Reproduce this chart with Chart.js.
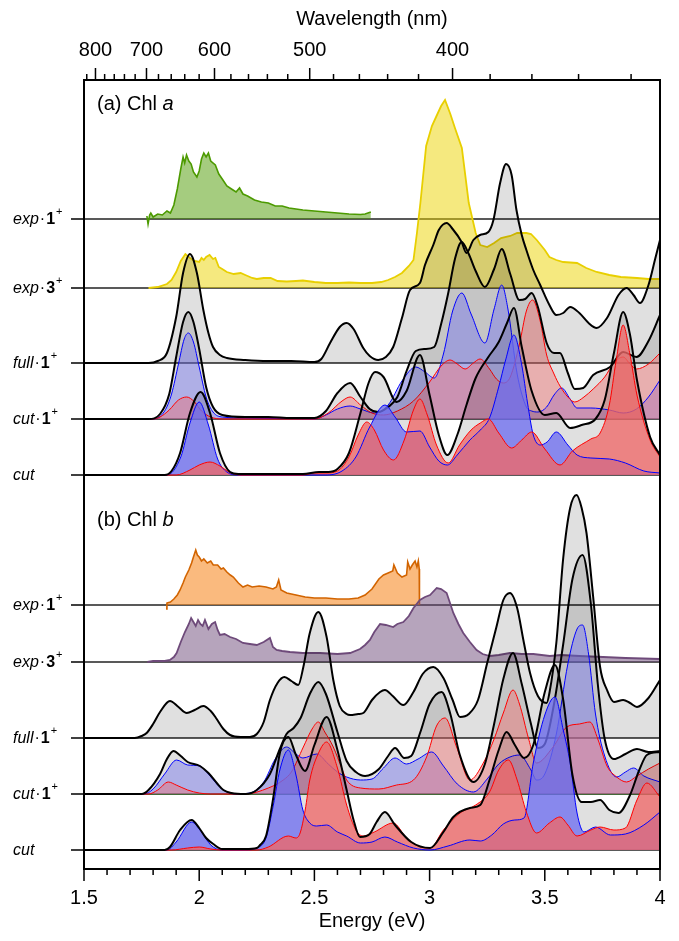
<!DOCTYPE html>
<html>
<head>
<meta charset="utf-8">
<title>Chl a / Chl b</title>
<script src="https://cdn.jsdelivr.net/npm/chart.js@4.4.1/dist/chart.umd.min.js"></script>
<style>
  body { margin: 0; background: #fff; }
  #wrap { width: 679px; height: 941px; }
</style>
</head>
<body>
<div id="wrap"><canvas id="grafico" width="679" height="941"></canvas></div>
<script>
// ---- ejes ----
const energyTicks = [1.5, 2, 2.5, 3, 3.5, 4];
const energyMinor = [1.6, 1.7, 1.8, 1.9, 2.1, 2.2, 2.3, 2.4, 2.6, 2.7, 2.8, 2.9, 3.1, 3.2, 3.3, 3.4, 3.6, 3.7, 3.8, 3.9];
const wavelengthTicks = [800, 700, 600, 500, 400];
const wavelengthMinor = [820, 780, 760, 740, 720, 680, 660, 640, 620, 580, 560, 540, 520, 480, 460, 440, 420, 380, 360, 340, 320];

// ---- lineas base (offset vertical de cada espectro) ----
const rowLabels = [['exp', '1'], ['exp', '3'], ['full', '1'], ['cut', '1'], ['cut', '']];
const baseA = [650, 581, 506, 450, 394];
const baseB = [264, 207, 131, 75, 19];

// ---- (a) Chl a : [energia eV, intensidad] ----
const expA1 = [[1.773,3],[1.778,-5],[1.785,4],[1.79,6],[1.80,2],[1.82,5],[1.84,4],[1.86,8],[1.875,6],[1.89,14],[1.905,30],[1.92,50],[1.93,62],[1.937,56],[1.945,64],[1.955,58],[1.965,55],[1.975,47],[1.99,42],[2.0,48],[2.01,60],[2.02,66],[2.03,62],[2.04,66],[2.05,58],[2.07,54],[2.085,45],[2.1,40],[2.12,33],[2.14,30],[2.16,27],[2.175,31],[2.19,25],[2.21,23],[2.24,19],[2.27,17],[2.3,16],[2.33,13],[2.36,13],[2.39,11],[2.42,10],[2.45,9],[2.5,8],[2.55,7],[2.6,6],[2.65,5],[2.7,4.5],[2.72,5],[2.745,7]];
const expA3 = [[1.78,0],[1.82,1],[1.86,4],[1.88,8],[1.9,16],[1.92,27],[1.94,34],[1.96,30],[1.98,27],[2.0,26],[2.01,30],[2.02,28],[2.03,31],[2.045,33],[2.06,29],[2.07,30],[2.085,21],[2.1,19],[2.12,16],[2.15,14],[2.18,15],[2.2,13],[2.23,10],[2.25,9],[2.28,10],[2.31,10],[2.34,7],[2.38,6.5],[2.42,7],[2.45,7.5],[2.5,6],[2.55,5],[2.6,5],[2.65,5.5],[2.7,5],[2.75,5],[2.79,6],[2.82,8],[2.85,11],[2.88,15],[2.91,22],[2.93,28],[2.945,55],[2.96,85],[2.985,142],[3.01,162],[3.03,172],[3.05,182],[3.067,188],[3.09,174],[3.11,160],[3.14,140],[3.17,85],[3.2,55],[3.22,43],[3.25,41],[3.28,45],[3.31,50],[3.35,52],[3.38,55],[3.42,55],[3.44,54],[3.465,48],[3.5,38],[3.52,31],[3.55,28],[3.58,26],[3.64,25],[3.68,20],[3.725,16],[3.78,13],[3.83,11],[3.9,10],[3.95,9],[4.0,9]];
const fullA = [[1.5,0],[1.78,0],[1.82,2],[1.86,10],[1.9,46],[1.93,90],[1.96,109],[1.99,90],[2.018,53],[2.04,30],[2.06,16],[2.09,8],[2.12,5],[2.2,3],[2.3,2],[2.4,2],[2.5,1],[2.53,4],[2.568,20],[2.61,36],[2.64,40],[2.67,34],[2.712,15],[2.74,7],[2.777,3],[2.81,6],[2.842,16],[2.88,45],[2.915,73],[2.958,80],[2.98,98],[3.016,118],[3.04,133],[3.074,140],[3.1,134],[3.139,121],[3.16,110],[3.19,123],[3.219,128],[3.255,131],[3.277,143],[3.306,180],[3.332,199],[3.356,188],[3.377,153],[3.40,128],[3.42,113],[3.45,93],[3.48,78],[3.52,58],[3.55,48],[3.58,50],[3.61,56],[3.65,50],[3.69,40],[3.725,35],[3.77,45],[3.82,68],[3.855,75],[3.885,68],[3.913,60],[3.95,78],[3.98,105],[4.0,123]];
const cut1A = [[1.5,0],[1.78,0],[1.83,5],[1.87,25],[1.90,62],[1.93,97],[1.953,107],[1.975,97],[2.0,70],[2.03,32],[2.06,12],[2.1,4],[2.2,2],[2.3,2],[2.4,1],[2.5,1],[2.55,8],[2.6,26],[2.655,36],[2.7,22],[2.74,10],[2.777,7],[2.82,12],[2.86,22],[2.9,48],[2.94,68],[2.98,70],[3.02,72],[3.05,95],[3.08,125],[3.11,160],[3.139,177],[3.17,165],[3.2,148],[3.24,132],[3.28,150],[3.313,170],[3.35,145],[3.39,119],[3.415,120],[3.443,126],[3.47,112],[3.508,76],[3.54,66],[3.566,66],[3.6,46],[3.63,30],[3.667,31],[3.71,44],[3.783,52],[3.84,67],[3.898,62],[3.95,78],[4.0,104]];
const cut1ABlue = [[1.5,0],[1.8,0],[1.85,8],[1.88,25],[1.91,55],[1.935,80],[1.953,86],[1.975,77],[2.0,52],[2.03,22],[2.06,7],[2.1,2],[2.2,1],[2.5,0],[2.55,4],[2.6,10],[2.655,13],[2.7,10],[2.76,6],[2.82,14],[2.88,38],[2.94,52],[2.98,47],[3.02,41],[3.06,65],[3.1,108],[3.14,126],[3.18,105],[3.24,76],[3.28,110],[3.313,134],[3.34,110],[3.38,45],[3.42,12],[3.443,8],[3.47,7],[3.508,12],[3.54,24],[3.573,31],[3.61,20],[3.64,11],[3.7,11],[3.78,9],[3.84,6],[3.898,10],[3.95,22],[4.0,39]];
const cut1ARed = [[1.5,0],[1.8,0],[1.83,2],[1.87,9],[1.91,19],[1.946,22],[1.98,17],[2.01,8],[2.05,2],[2.1,0],[2.5,0],[2.56,6],[2.62,18],[2.655,22],[2.7,14],[2.75,6],[2.8,4],[2.86,8],[2.93,18],[3.0,37],[3.05,53],[3.089,59],[3.12,55],[3.154,50],[3.19,56],[3.219,60],[3.26,50],[3.29,40],[3.32,36],[3.35,42],[3.39,75],[3.42,108],[3.447,119],[3.48,98],[3.508,64],[3.54,45],[3.566,33],[3.6,22],[3.63,17],[3.67,22],[3.71,30],[3.76,42],[3.8,56],[3.84,62],[3.87,55],[3.898,50],[3.95,55],[4.0,66]];
const cutA = [[1.5,0],[1.85,0],[1.88,4],[1.917,22],[1.96,62],[2.006,83],[2.047,62],[2.09,22],[2.134,3],[2.17,1],[2.3,1],[2.45,1],[2.52,3],[2.56,3],[2.6,6],[2.65,22],[2.7,62],[2.735,92],[2.763,103],[2.8,98],[2.857,73],[2.9,84],[2.958,120],[3.0,80],[3.04,40],[3.077,20],[3.12,40],[3.16,70],[3.2,97],[3.255,118],[3.3,133],[3.336,152],[3.366,167],[3.4,128],[3.443,84],[3.5,60],[3.55,62],[3.61,47],[3.66,50],[3.72,56],[3.76,75],[3.8,122],[3.84,163],[3.87,140],[3.9,95],[3.957,38],[4.0,20]];
const cutABlue = [[1.5,0],[1.86,0],[1.92,18],[1.96,52],[2.0,73],[2.04,50],[2.08,16],[2.12,3],[2.17,0],[2.55,0],[2.62,4],[2.68,18],[2.74,48],[2.806,70],[2.85,58],[2.9,43],[2.958,44],[3.0,28],[3.04,14],[3.077,10],[3.12,20],[3.175,35],[3.22,45],[3.26,57],[3.3,88],[3.33,115],[3.366,140],[3.4,110],[3.425,72],[3.45,40],[3.48,30],[3.51,33],[3.55,43],[3.6,30],[3.64,20],[3.7,17],[3.78,16],[3.85,12],[3.93,4],[4.0,2]];
const cutARed = [[1.5,0],[1.9,0],[1.96,5],[2.0,10],[2.047,13],[2.09,9],[2.13,3],[2.18,0],[2.45,0],[2.5,2],[2.55,2],[2.6,4],[2.65,18],[2.69,40],[2.727,53],[2.76,45],[2.8,25],[2.843,15],[2.89,35],[2.93,65],[2.958,76],[2.99,60],[3.03,30],[3.081,12],[3.13,30],[3.18,45],[3.22,52],[3.255,56],[3.3,42],[3.356,27],[3.4,35],[3.443,43],[3.5,26],[3.566,10],[3.62,24],[3.7,36],[3.74,42],[3.78,70],[3.81,115],[3.84,150],[3.87,120],[3.9,80],[3.957,35],[4.0,18]];

// ---- (b) Chl b ----
const expB1 = [[1.856,-4],[1.86,2],[1.875,3],[1.89,6],[1.905,10],[1.917,15],[1.93,22],[1.94,28],[1.955,35],[1.967,42],[1.975,48],[1.985,55],[1.992,50],[2.0,48],[2.01,44],[2.02,46],[2.035,42],[2.05,44],[2.061,40],[2.08,40],[2.095,36],[2.105,37],[2.12,33],[2.135,30],[2.148,28],[2.17,22],[2.19,18],[2.21,20],[2.23,18],[2.26,19],[2.29,18],[2.32,16],[2.335,18],[2.345,25],[2.355,15],[2.38,12],[2.42,10],[2.46,8],[2.5,7],[2.55,7],[2.6,6],[2.65,6],[2.69,7],[2.72,10],[2.75,16],[2.78,26],[2.8,30],[2.82,32],[2.84,34],[2.845,40],[2.86,32],[2.88,28],[2.9,30],[2.905,43],[2.915,36],[2.925,40],[2.937,44],[2.945,38],[2.951,44],[2.955,36],[2.956,0]];
const expB3 = [[1.775,0],[1.8,1],[1.85,1],[1.873,2],[1.89,5],[1.902,9],[1.92,20],[1.938,30],[1.955,38],[1.965,44],[1.975,40],[1.985,36],[1.995,42],[2.005,38],[2.015,36],[2.025,42],[2.04,33],[2.055,38],[2.069,40],[2.08,32],[2.09,27],[2.11,28],[2.134,25],[2.16,23],[2.19,19],[2.22,18],[2.25,17],[2.28,20],[2.307,24],[2.32,15],[2.336,12],[2.36,11],[2.394,10],[2.45,9],[2.524,9],[2.6,8],[2.655,9],[2.698,13],[2.72,17],[2.741,22],[2.76,30],[2.785,38],[2.81,37],[2.842,35],[2.86,38],[2.886,40],[2.91,46],[2.93,54],[2.958,62],[2.98,65],[3.002,67],[3.031,74],[3.05,73],[3.074,69],[3.09,58],[3.103,49],[3.125,38],[3.146,29],[3.175,20],[3.204,12],[3.23,8],[3.262,6],[3.3,7],[3.349,9],[3.4,8],[3.45,8],[3.522,6],[3.57,7],[3.65,6],[3.753,5],[3.85,4],[4.0,3]];
const fullB = [[1.5,0],[1.72,0],[1.75,2],[1.772,5],[1.8,14],[1.83,26],[1.873,37],[1.91,31],[1.946,25],[1.98,28],[2.018,32],[2.05,27],[2.076,19],[2.105,9],[2.134,3],[2.18,1],[2.22,1],[2.25,4],[2.28,16],[2.307,38],[2.34,55],[2.37,61],[2.40,57],[2.43,53],[2.452,71],[2.48,105],[2.517,126],[2.553,101],[2.582,58],[2.61,32],[2.64,24],[2.655,23],[2.69,24],[2.712,25],[2.75,38],[2.785,46],[2.806,48],[2.84,42],[2.886,33],[2.93,46],[2.97,64],[3.016,71],[3.06,60],[3.1,38],[3.132,21],[3.17,24],[3.21,38],[3.25,75],[3.29,111],[3.32,138],[3.349,145],[3.38,130],[3.407,98],[3.436,65],[3.47,42],[3.508,35],[3.52,45],[3.55,95],[3.58,180],[3.61,230],[3.638,243],[3.66,230],[3.681,205],[3.71,141],[3.74,71],[3.77,48],[3.80,36],[3.84,38],[3.87,35],[3.9,31],[3.95,40],[4.0,58]];
const cut1B = [[1.5,0],[1.75,0],[1.78,4],[1.83,20],[1.86,35],[1.888,43],[1.92,38],[1.95,32],[2.003,28],[2.04,21],[2.08,10],[2.105,4],[2.14,1],[2.2,0],[2.25,4],[2.307,20],[2.35,45],[2.379,60],[2.41,66],[2.44,76],[2.48,100],[2.517,112],[2.55,100],[2.6,62],[2.64,33],[2.68,22],[2.72,18],[2.78,25],[2.82,38],[2.85,46],[2.89,36],[2.92,38],[2.96,62],[3.0,90],[3.052,102],[3.09,80],[3.13,40],[3.19,12],[3.24,30],[3.28,70],[3.32,115],[3.362,141],[3.4,110],[3.44,70],[3.47,46],[3.5,50],[3.54,90],[3.58,150],[3.62,215],[3.664,239],[3.7,190],[3.73,110],[3.76,55],[3.8,35],[3.85,40],[3.9,45],[3.95,42],[4.0,43]];
const cut1BBlue = [[1.5,0],[1.76,0],[1.8,5],[1.85,20],[1.902,34],[1.95,29],[2.003,28],[2.04,20],[2.08,9],[2.105,4],[2.15,0],[2.22,1],[2.28,12],[2.33,35],[2.379,47],[2.42,40],[2.45,36],[2.51,40],[2.56,30],[2.6,22],[2.64,17],[2.7,14],[2.75,15],[2.8,26],[2.85,36],[2.9,30],[2.95,35],[3.009,42],[3.06,28],[3.12,10],[3.19,2],[3.25,15],[3.3,30],[3.349,37],[3.39,39],[3.44,24],[3.464,14],[3.5,20],[3.55,60],[3.6,130],[3.64,165],[3.664,169],[3.69,140],[3.72,80],[3.76,38],[3.812,17],[3.85,22],[3.885,26],[3.93,18],[4.0,12]];
const cut1BRed = [[1.5,0],[1.78,0],[1.82,4],[1.866,12],[1.9,9],[1.95,4],[2.0,1],[2.05,0],[2.2,0],[2.3,6],[2.365,14],[2.4,22],[2.452,47],[2.49,65],[2.517,72],[2.545,62],[2.582,47],[2.62,25],[2.64,14],[2.7,6],[2.78,5],[2.857,9],[2.93,14],[2.987,37],[3.03,68],[3.067,76],[3.117,47],[3.175,14],[3.233,31],[3.28,55],[3.32,81],[3.362,104],[3.39,90],[3.43,55],[3.464,31],[3.536,47],[3.595,67],[3.65,70],[3.696,72],[3.73,55],[3.77,28],[3.812,17],[3.855,12],[3.9,18],[3.95,25],[4.0,31]];
const cutB = [[1.5,0],[1.85,0],[1.873,3],[1.917,20],[1.967,30],[2.0,22],[2.03,12],[2.061,6],[2.1,1],[2.2,1],[2.25,2],[2.264,5],[2.29,14],[2.322,53],[2.35,97],[2.387,113],[2.42,95],[2.459,79],[2.5,105],[2.553,133],[2.6,100],[2.64,60],[2.67,30],[2.698,13],[2.74,16],[2.77,28],[2.806,38],[2.85,25],[2.92,8],[3.002,2],[3.06,18],[3.103,33],[3.175,42],[3.22,45],[3.26,70],[3.3,100],[3.334,118],[3.37,105],[3.41,92],[3.45,105],[3.5,158],[3.544,185],[3.58,150],[3.62,75],[3.66,48],[3.7,48],[3.74,50],[3.78,40],[3.82,37],[3.87,55],[3.91,80],[3.943,95],[4.0,98]];
const cutBBlue = [[1.5,0],[1.86,0],[1.9,8],[1.967,28],[2.01,18],[2.05,5],[2.1,0],[2.2,0],[2.25,2],[2.29,12],[2.322,45],[2.35,80],[2.387,100],[2.42,75],[2.45,40],[2.48,27],[2.51,24],[2.553,25],[2.6,18],[2.64,14],[2.7,7],[2.75,8],[2.806,13],[2.86,8],[2.93,2],[3.002,0],[3.08,4],[3.175,10],[3.22,9],[3.27,15],[3.32,26],[3.37,30],[3.41,32],[3.45,87],[3.5,135],[3.544,153],[3.58,120],[3.61,87],[3.64,37],[3.67,18],[3.72,23],[3.785,15],[3.85,16],[3.93,25],[4.0,38]];
const cutBRed = [[1.5,0],[1.88,0],[1.95,2],[2.0,3],[2.05,1],[2.1,0],[2.25,0],[2.3,3],[2.387,14],[2.42,12],[2.438,17],[2.46,40],[2.48,70],[2.52,98],[2.553,108],[2.6,82],[2.64,45],[2.68,20],[2.712,14],[2.76,18],[2.842,27],[2.9,12],[2.95,4],[3.002,2],[3.06,20],[3.132,37],[3.2,45],[3.26,58],[3.3,80],[3.342,90],[3.38,70],[3.42,38],[3.464,17],[3.52,27],[3.566,33],[3.6,25],[3.64,14],[3.7,20],[3.74,23],[3.8,20],[3.85,22],[3.9,50],[3.943,67],[4.0,53]];

// ---- colores ----
const GRIS = 'rgba(0,0,0,0.12)';
const FONT = '"Liberation Sans", Arial, sans-serif';
const coloresCut1 = { azul: 'rgba(120,120,235,0.47)', rojo: 'rgba(240,110,110,0.43)' };
const coloresCut = { azul: 'rgba(110,110,240,0.78)', rojo: 'rgba(238,104,104,0.78)' };

const capas = [];   // en orden de dibujo (primero = abajo)

function puntos(serie, base) {
    return serie.map(p => ({ x: p[0], y: base + p[1] }));
}

function curva(serie, base, color, ancho, relleno, suave) {
    capas.push({
        data: puntos(serie, base),
        borderColor: ancho ? color : 'rgba(0,0,0,0)',
        borderWidth: ancho || 0.01,
        backgroundColor: relleno || 'rgba(0,0,0,0)',
        fill: relleno ? { value: base } : false,
        cubicInterpolationMode: suave ? 'monotone' : 'default',
        tension: 0,
        pointRadius: 0
    });
}

function lineaBase(base, color, desde, ancho) {
    capas.push({
        data: [{ x: desde, y: base }, { x: 4, y: base }],
        borderColor: color, borderWidth: ancho, pointRadius: 0, fill: false
    });
}

// espectro calculado: primero los rellenos, luego las lineas
function calculado(total, azul, rojo, base, colores) {
    curva(total, base, null, 0, GRIS, true);
    if (azul) curva(azul, base, null, 0, colores.azul, true);
    if (rojo) curva(rojo, base, null, 0, colores.rojo, true);
    if (azul) curva(azul, base, '#0000ff', 1, null, true);
    if (rojo) curva(rojo, base, '#ff0000', 1, null, true);
    curva(total, base, '#000', 2, null, true);
}

// lineas base
baseA.concat(baseB).forEach(b => lineaBase(b, '#222', 1.5, 1.6));
lineaBase(baseB[3], '#2f7a1a', 1.72, 1.2);

// panel (a)
curva(expA1, baseA[0], '#4c9a00', 1.6, 'rgba(76,154,0,0.5)', false);
curva(expA3, baseA[1], '#e8cf00', 1.8, 'rgba(236,212,0,0.5)', false);
calculado(fullA, null, null, baseA[2], null);
calculado(cut1A, cut1ABlue, cut1ARed, baseA[3], coloresCut1);
calculado(cutA, cutABlue, cutARed, baseA[4], coloresCut);

// panel (b)
curva(expB1, baseB[0], '#d26400', 1.6, 'rgba(246,140,40,0.6)', false);
curva(expB3, baseB[1], '#6e4a7a', 1.8, 'rgba(110,74,122,0.5)', false);
calculado(fullB, null, null, baseB[2], null);
calculado(cut1B, cut1BBlue, cut1BRed, baseB[3], coloresCut1);
calculado(cutB, cutBBlue, cutBRed, baseB[4], coloresCut);

// Chart.js dibuja el dataset 0 arriba: invertir
const datasets = capas.reverse();

// ---- marco, ticks y textos ----
const ejesPlugin = {
    id: 'ejes',
    afterDraw(chart) {
        const { ctx, chartArea: a, scales: { x, y } } = chart;
        ctx.save();
        ctx.strokeStyle = '#000';
        ctx.fillStyle = '#000';
        ctx.lineWidth = 2;
        ctx.strokeRect(a.left, a.top, a.right - a.left, a.bottom - a.top);

        ctx.lineWidth = 1.5;
        ctx.beginPath();
        energyTicks.forEach(e => { const px = x.getPixelForValue(e); ctx.moveTo(px, a.bottom); ctx.lineTo(px, a.bottom + 12); });
        energyMinor.forEach(e => { const px = x.getPixelForValue(e); ctx.moveTo(px, a.bottom); ctx.lineTo(px, a.bottom + 6); });
        wavelengthTicks.forEach(nm => { const px = x.getPixelForValue(1239.84 / nm); ctx.moveTo(px, a.top); ctx.lineTo(px, a.top - 12); });
        wavelengthMinor.forEach(nm => { const px = x.getPixelForValue(1239.84 / nm); ctx.moveTo(px, a.top); ctx.lineTo(px, a.top - 6); });
        baseA.concat(baseB).forEach(b => { const py = y.getPixelForValue(b); ctx.moveTo(a.left - 13, py); ctx.lineTo(a.left, py); });
        ctx.stroke();

        ctx.textAlign = 'center';
        ctx.textBaseline = 'middle';
        ctx.font = '20px ' + FONT;
        energyTicks.forEach(e => ctx.fillText(String(e), x.getPixelForValue(e), 898));
        ctx.fillText('Energy (eV)', (a.left + a.right) / 2, 921);
        wavelengthTicks.forEach(nm => ctx.fillText(String(nm), x.getPixelForValue(1239.84 / nm), 50));
        ctx.fillText('Wavelength (nm)', (a.left + a.right) / 2, 19);

        // titulos de panel
        ctx.textAlign = 'left';
        [['(a) Chl ', 'a', 104], ['(b) Chl ', 'b', 520]].forEach(t => {
            ctx.font = '20px ' + FONT;
            ctx.fillText(t[0], 97, t[2]);
            const w = ctx.measureText(t[0]).width;
            ctx.font = 'italic 20px ' + FONT;
            ctx.fillText(t[1], 97 + w, t[2]);
        });

        // etiquetas de filas
        [baseA, baseB].forEach(bases => {
            bases.forEach((b, i) => {
                const py = y.getPixelForValue(b) + 1;
                let cx = 13;
                ctx.font = 'italic 16px ' + FONT;
                ctx.fillText(rowLabels[i][0], cx, py);
                cx += ctx.measureText(rowLabels[i][0]).width;
                if (rowLabels[i][1]) {
                    ctx.font = '16px ' + FONT;
                    ctx.fillText('\u00b7', cx + 1, py);
                    cx += ctx.measureText('\u00b7').width + 2;
                    ctx.font = 'bold 16px ' + FONT;
                    ctx.fillText(rowLabels[i][1], cx, py);
                    cx += ctx.measureText(rowLabels[i][1]).width;
                    ctx.font = '11px ' + FONT;
                    ctx.fillText('+', cx + 1, py - 8);
                }
            });
        });
        ctx.restore();
    }
};

new Chart(document.getElementById('grafico'), {
    type: 'line',
    data: { datasets: datasets },
    options: {
        responsive: false,
        animation: false,
        events: [],
        layout: { padding: { left: 84, right: 19, top: 80, bottom: 72 } },
        scales: {
            x: { type: 'linear', min: 1.5, max: 4, display: false },
            y: { type: 'linear', min: 0, max: 789, display: false }
        },
        plugins: {
            legend: { display: false },
            tooltip: { enabled: false },
            filler: { propagate: false }
        }
    },
    plugins: [ejesPlugin]
});
</script>
</body>
</html>
